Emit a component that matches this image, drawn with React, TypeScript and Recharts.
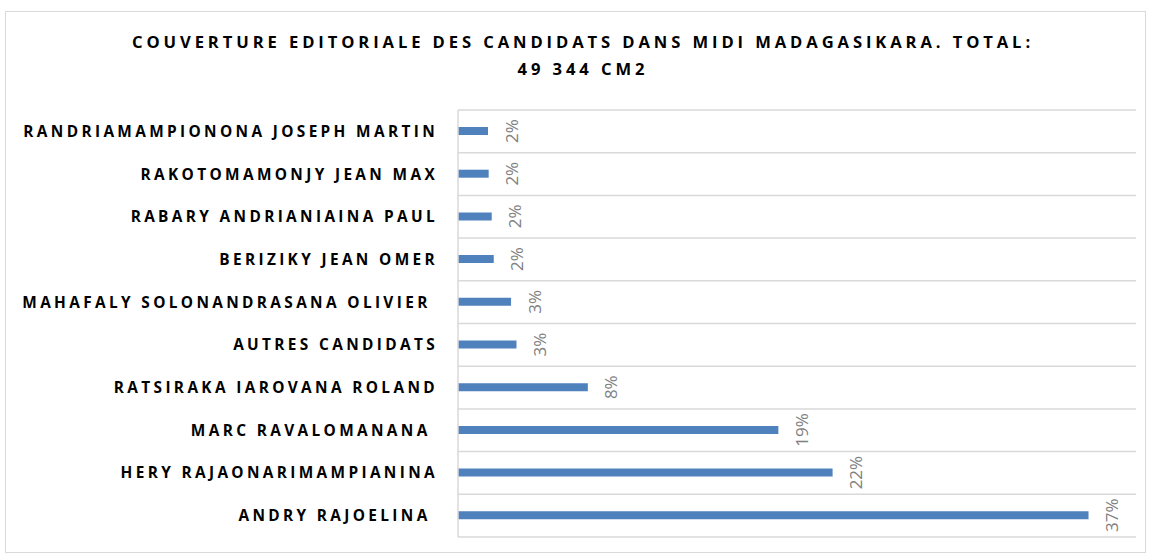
import React from "react";
import { BarChart, Bar, XAxis, YAxis, CartesianGrid, LabelList } from "recharts";

const CANDIDATES = [
  "RANDRIAMAMPIONONA JOSEPH MARTIN",
  "RAKOTOMAMONJY JEAN MAX",
  "RABARY ANDRIANIAINA PAUL",
  "BERIZIKY JEAN OMER",
  "MAHAFALY SOLONANDRASANA OLIVIER ",
  "AUTRES CANDIDATS",
  "RATSIRAKA IAROVANA ROLAND",
  "MARC RAVALOMANANA ",
  "HERY RAJAONARIMAMPIANINA",
  "ANDRY RAJOELINA ",
];

// share of editorial coverage, in %
const SHARES = [1.77, 1.81, 1.99, 2.11, 3.13, 3.45, 7.66, 18.9, 22.1, 37.2];

const TITLE_LINES = [
  "COUVERTURE EDITORIALE DES CANDIDATS DANS MIDI MADAGASIKARA. TOTAL:",
  "49 344 CM2",
];

const data = CANDIDATES.map((name, i) => ({ name, share: SHARES[i] }));

const FONT = '"Open Sans", "DejaVu Sans", sans-serif';

function CategoryTick({ x, y, payload }: any) {
  return (
    <text
      x={x}
      y={y}
      textAnchor="end"
      dominantBaseline="central"
      fill="#000"
      fontFamily={FONT}
      fontWeight={700}
      fontSize={15.4}
      letterSpacing={3.35}
      style={{ whiteSpace: "pre" }}
    >
      {payload.value}
    </text>
  );
}

function ShareLabel({ x, y, width, height, value }: any) {
  const cx = x + width + 23;
  const cy = y + height / 2;
  return (
    <text
      x={cx}
      y={cy}
      transform={`rotate(-90 ${cx} ${cy})`}
      textAnchor="middle"
      dominantBaseline="central"
      fill="#808080"
      fontFamily={FONT}
      fontSize={17}
    >
      {`${Math.round(value)}%`}
    </text>
  );
}

export default function App() {
  const n = data.length;
  return (
    <div style={{ position: "absolute", left: 0, top: 0, width: 1150, height: 558, background: "#fff" }}>
      <div
        style={{
          position: "absolute",
          left: 5,
          top: 11,
          width: 1139,
          height: 540,
          border: "1px solid #d9d9d9",
        }}
      />
      <div
        style={{
          position: "absolute",
          left: 8,
          top: 28,
          width: 1150,
          textAlign: "center",
          fontFamily: FONT,
          fontWeight: 700,
          fontSize: 16.6,
          letterSpacing: 3.9,
          lineHeight: "27px",
          color: "#000",
        }}
      >
        {TITLE_LINES.map((t) => (
          <div key={t}>{t}</div>
        ))}
      </div>
      <div style={{ position: "absolute", left: 0, top: 0 }}>
        <BarChart
          width={1150}
          height={558}
          data={data}
          layout="vertical"
          margin={{ top: 110, right: 14, bottom: 21, left: 0 }}
        >
          <CartesianGrid
            vertical={false}
            stroke="#d9d9d9"
            strokeWidth={1.5}
            horizontalCoordinatesGenerator={({ offset }: any) =>
              Array.from({ length: n + 1 }, (_, i) => offset.top + (i * offset.height) / n)
            }
          />
          <XAxis type="number" domain={[0, 40]} hide />
          <YAxis
            type="category"
            dataKey="name"
            width={458}
            tick={<CategoryTick />}
            tickLine={false}
            tickSize={0}
            tickMargin={20}
            axisLine={{ stroke: "#d9d9d9", strokeWidth: 1.5 }}
            interval={0}
          />
          <Bar dataKey="share" fill="#4f81bd" barSize={8} isAnimationActive={false}>
            <LabelList dataKey="share" content={<ShareLabel />} />
          </Bar>
        </BarChart>
      </div>
    </div>
  );
}
